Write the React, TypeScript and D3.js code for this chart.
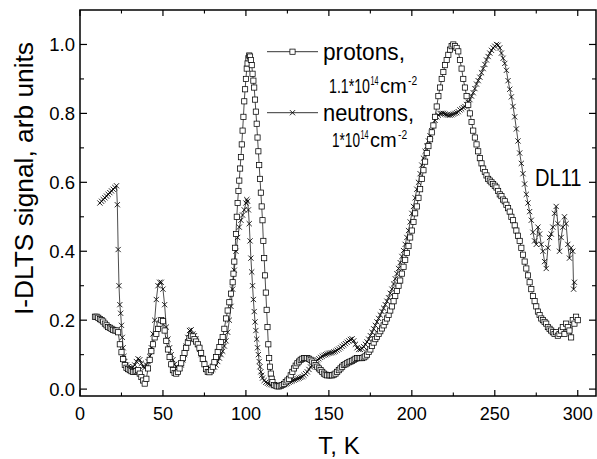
import React from 'react';
import * as d3 from 'd3';

// ---- data (T in K, I-DLTS signal in arb. units) ----
const protons: [number, number][] = [
  [9, 0.21], [10, 0.21], [11, 0.207], [12, 0.203], [13, 0.2], [14, 0.196], [15, 0.19], [16, 0.185], [17, 0.18], [18, 0.178],
  [19, 0.175], [20, 0.172], [21, 0.17], [22, 0.17], [23, 0.165], [24, 0.13], [25, 0.107], [26, 0.087], [27, 0.07], [28, 0.062],
  [29, 0.058], [30, 0.055], [31, 0.052], [32, 0.05], [33, 0.05], [34, 0.052], [35, 0.055], [36, 0.045], [37, 0.035], [38, 0.025],
  [39, 0.016], [40, 0.03], [41, 0.06], [42, 0.085], [43, 0.11], [44, 0.13], [45, 0.15], [46, 0.16], [47, 0.175], [48, 0.19],
  [49, 0.2], [50, 0.197], [51, 0.17], [52, 0.14], [53, 0.115], [54, 0.093], [55, 0.072], [56, 0.055], [57, 0.047], [58, 0.045],
  [59, 0.05], [60, 0.06], [61, 0.075], [62, 0.09], [63, 0.105], [64, 0.12], [65, 0.135], [66, 0.148], [67, 0.155], [68, 0.153],
  [69, 0.145], [70, 0.138], [71, 0.13], [72, 0.12], [73, 0.105], [74, 0.088], [75, 0.072], [76, 0.058], [77, 0.05], [78, 0.049],
  [79, 0.055], [80, 0.065], [81, 0.078], [82, 0.093], [83, 0.108], [84, 0.122], [85, 0.137], [86, 0.151], [87, 0.175], [88, 0.205],
  [89, 0.228], [90, 0.252], [91, 0.277], [92, 0.31], [92.5, 0.335], [93, 0.37], [93.5, 0.41], [94, 0.45], [94.5, 0.5], [95, 0.54],
  [95.5, 0.575], [96, 0.605], [96.5, 0.64], [97, 0.673], [97.5, 0.71], [98, 0.75], [98.5, 0.79], [99, 0.835], [99.5, 0.87], [100, 0.9],
  [100.5, 0.93], [101, 0.945], [101.5, 0.96], [102, 0.968], [102.5, 0.965], [103, 0.955], [103.5, 0.94], [104, 0.915], [104.5, 0.895], [105, 0.875],
  [105.5, 0.84], [106, 0.805], [106.5, 0.77], [107, 0.73], [107.5, 0.69], [108, 0.65], [108.5, 0.61], [109, 0.57], [109.5, 0.53], [110, 0.49],
  [110.5, 0.43], [111, 0.38], [111.5, 0.33], [112, 0.28], [112.5, 0.23], [113, 0.18], [113.5, 0.13], [114, 0.09], [114.5, 0.065], [115, 0.045],
  [115.5, 0.03], [116, 0.02], [117, 0.012], [118, 0.01], [119, 0.008], [120, 0.008], [121, 0.01], [122, 0.012], [123, 0.015], [124, 0.02],
  [125, 0.025], [126, 0.03], [127, 0.04], [128, 0.05], [129, 0.06], [130, 0.068], [131, 0.075], [132, 0.08], [133, 0.085], [134, 0.088],
  [135, 0.09], [136, 0.09], [137, 0.09], [138, 0.088], [139, 0.085], [140, 0.08], [141, 0.075], [142, 0.07], [143, 0.065], [144, 0.06],
  [145, 0.055], [146, 0.05], [147, 0.045], [148, 0.042], [149, 0.04], [150, 0.04], [151, 0.04], [152, 0.04], [153, 0.042], [154, 0.045],
  [155, 0.05], [156, 0.055], [157, 0.06], [158, 0.065], [159, 0.07], [160, 0.072], [161, 0.075], [162, 0.078], [163, 0.08], [164, 0.082],
  [165, 0.085], [166, 0.088], [167, 0.09], [168, 0.09], [169, 0.09], [170, 0.09], [171, 0.092], [172, 0.095], [173, 0.1], [174, 0.108],
  [175, 0.115], [176, 0.125], [177, 0.135], [178, 0.145], [179, 0.152], [180, 0.16], [181, 0.168], [182, 0.176], [183, 0.185], [184, 0.195],
  [185, 0.205], [186, 0.215], [187, 0.228], [188, 0.24], [189, 0.255], [190, 0.27], [191, 0.285], [192, 0.3], [193, 0.315], [194, 0.335],
  [195, 0.355], [196, 0.375], [197, 0.395], [198, 0.415], [199, 0.44], [200, 0.46], [201, 0.485], [202, 0.51], [203, 0.53], [204, 0.555],
  [205, 0.58], [206, 0.61], [207, 0.635], [208, 0.66], [209, 0.685], [210, 0.705], [211, 0.725], [212, 0.745], [213, 0.765], [214, 0.79],
  [215, 0.82], [216, 0.85], [217, 0.875], [218, 0.9], [219, 0.92], [220, 0.94], [221, 0.955], [222, 0.97], [223, 0.985], [224, 0.995],
  [225, 1.0], [226, 0.995], [227, 0.99], [228, 0.98], [229, 0.955], [230, 0.93], [231, 0.9], [232, 0.875], [233, 0.85], [234, 0.825],
  [235, 0.8], [236, 0.775], [237, 0.75], [238, 0.73], [239, 0.71], [240, 0.69], [241, 0.67], [242, 0.655], [243, 0.64], [244, 0.63],
  [245, 0.62], [246, 0.61], [247, 0.605], [248, 0.6], [249, 0.595], [250, 0.59], [251, 0.585], [252, 0.575], [253, 0.565], [254, 0.56],
  [255, 0.55], [256, 0.545], [257, 0.535], [258, 0.525], [259, 0.515], [260, 0.5], [261, 0.49], [262, 0.475], [263, 0.46], [264, 0.445],
  [265, 0.43], [266, 0.41], [267, 0.39], [268, 0.37], [269, 0.35], [270, 0.33], [271, 0.31], [272, 0.29], [273, 0.27], [274, 0.255],
  [275, 0.24], [276, 0.225], [277, 0.215], [278, 0.205], [279, 0.2], [280, 0.195], [281, 0.19], [282, 0.18], [283, 0.175], [284, 0.17],
  [285, 0.165], [286, 0.16], [287, 0.165], [288, 0.155], [289, 0.16], [290, 0.17], [291, 0.18], [292, 0.16], [293, 0.19], [294, 0.18],
  [295, 0.17], [296, 0.15], [297, 0.2], [298, 0.19], [299, 0.21], [300, 0.2],
];

const neutrons: [number, number][] = [
  [12, 0.54], [13, 0.545], [14, 0.55], [15, 0.555], [16, 0.56], [17, 0.565], [18, 0.57], [19, 0.575], [20, 0.58], [21, 0.585],
  [22, 0.59], [22.5, 0.535], [23, 0.405], [23.5, 0.3], [24, 0.245], [24.5, 0.22], [25, 0.185], [25.5, 0.15], [26, 0.12], [26.5, 0.095],
  [27, 0.08], [28, 0.07], [29, 0.065], [30, 0.06], [31, 0.06], [32, 0.065], [33, 0.07], [34, 0.08], [35, 0.088], [36, 0.085],
  [37, 0.075], [38, 0.065], [39, 0.062], [40, 0.07], [41, 0.08], [42, 0.095], [43, 0.12], [44, 0.16], [45, 0.2], [46, 0.26],
  [47, 0.3], [48, 0.31], [49, 0.31], [50, 0.29], [51, 0.245], [52, 0.18], [53, 0.145], [54, 0.12], [55, 0.1], [56, 0.085],
  [57, 0.072], [58, 0.065], [59, 0.06], [60, 0.062], [61, 0.07], [62, 0.085], [63, 0.1], [64, 0.125], [65, 0.15], [66, 0.17],
  [67, 0.172], [68, 0.16], [69, 0.155], [70, 0.145], [71, 0.13], [72, 0.115], [73, 0.1], [74, 0.088], [75, 0.075], [76, 0.062],
  [77, 0.055], [78, 0.05], [79, 0.052], [80, 0.058], [81, 0.064], [82, 0.07], [83, 0.08], [84, 0.09], [85, 0.1], [86, 0.11],
  [87, 0.125], [88, 0.14], [89, 0.165], [90, 0.2], [91, 0.24], [92, 0.29], [93, 0.345], [94, 0.4], [95, 0.44], [96, 0.47],
  [97, 0.49], [98, 0.505], [99, 0.52], [100, 0.54], [100.5, 0.55], [101, 0.545], [101.5, 0.52], [102, 0.48], [102.5, 0.43], [103, 0.38],
  [103.5, 0.34], [104, 0.3], [104.5, 0.26], [105, 0.225], [105.5, 0.195], [106, 0.17], [106.5, 0.145], [107, 0.12], [107.5, 0.1], [108, 0.08],
  [108.5, 0.065], [109, 0.05], [109.5, 0.04], [110, 0.032], [111, 0.025], [112, 0.02], [113, 0.017], [114, 0.015], [115, 0.013], [116, 0.012],
  [117, 0.01], [118, 0.01], [119, 0.01], [120, 0.01], [121, 0.01], [122, 0.012], [123, 0.013], [124, 0.015], [125, 0.017], [126, 0.02],
  [127, 0.022], [128, 0.024], [129, 0.026], [130, 0.028], [131, 0.03], [132, 0.032], [133, 0.034], [134, 0.036], [135, 0.04], [136, 0.045],
  [137, 0.05], [138, 0.057], [139, 0.064], [140, 0.07], [141, 0.076], [142, 0.08], [143, 0.085], [144, 0.088], [145, 0.092], [146, 0.095],
  [147, 0.098], [148, 0.1], [149, 0.102], [150, 0.104], [151, 0.105], [152, 0.106], [153, 0.108], [154, 0.11], [155, 0.113], [156, 0.116],
  [157, 0.12], [158, 0.124], [159, 0.128], [160, 0.132], [161, 0.136], [162, 0.14], [163, 0.144], [164, 0.146], [165, 0.14], [166, 0.13],
  [167, 0.12], [168, 0.115], [169, 0.115], [170, 0.118], [171, 0.123], [172, 0.13], [173, 0.137], [174, 0.145], [175, 0.155], [176, 0.165],
  [177, 0.175], [178, 0.185], [179, 0.195], [180, 0.205], [181, 0.215], [182, 0.225], [183, 0.235], [184, 0.245], [185, 0.255], [186, 0.265],
  [187, 0.278], [188, 0.29], [189, 0.305], [190, 0.32], [191, 0.335], [192, 0.35], [193, 0.367], [194, 0.385], [195, 0.402], [196, 0.42],
  [197, 0.44], [198, 0.46], [199, 0.485], [200, 0.51], [201, 0.53], [202, 0.555], [203, 0.58], [204, 0.6], [205, 0.625], [206, 0.65],
  [207, 0.67], [208, 0.69], [209, 0.705], [210, 0.72], [211, 0.735], [212, 0.75], [213, 0.765], [214, 0.78], [215, 0.79], [216, 0.795],
  [217, 0.8], [218, 0.8], [219, 0.8], [220, 0.798], [221, 0.796], [222, 0.795], [223, 0.795], [224, 0.796], [225, 0.798], [226, 0.8],
  [227, 0.802], [228, 0.805], [229, 0.81], [230, 0.813], [231, 0.817], [232, 0.82], [233, 0.826], [234, 0.832], [235, 0.84], [236, 0.85],
  [237, 0.86], [238, 0.872], [239, 0.885], [240, 0.895], [241, 0.905], [242, 0.918], [243, 0.93], [244, 0.942], [245, 0.955], [246, 0.965],
  [247, 0.975], [248, 0.983], [249, 0.99], [250, 0.995], [251, 1.0], [252, 0.998], [253, 0.99], [254, 0.975], [255, 0.96], [256, 0.945],
  [257, 0.925], [258, 0.895], [259, 0.87], [260, 0.848], [261, 0.82], [262, 0.79], [263, 0.755], [264, 0.72], [265, 0.685], [266, 0.655],
  [267, 0.625], [268, 0.595], [269, 0.565], [270, 0.54], [271, 0.515], [272, 0.49], [273, 0.455], [274, 0.43], [275, 0.42], [276, 0.47],
  [277, 0.45], [278, 0.42], [279, 0.4], [280, 0.37], [281, 0.35], [282, 0.41], [283, 0.44], [284, 0.45], [285, 0.47], [286, 0.51],
  [287, 0.53], [288, 0.48], [289, 0.4], [290, 0.44], [291, 0.47], [292, 0.5], [293, 0.48], [294, 0.42], [295, 0.38], [296, 0.41],
  [297, 0.4], [297.5, 0.29], [298, 0.31],
];

const xMajorTicks = [0, 50, 100, 150, 200, 250, 300];
const xMinorTicks = [25, 75, 125, 175, 225, 275];
const yMajorTicks = [0, 0.2, 0.4, 0.6, 0.8, 1.0];
const yMinorTicks = [0.1, 0.3, 0.5, 0.7, 0.9];

const FONT = "'Liberation Sans', Arial, Helvetica, sans-serif";

const x = d3.scaleLinear().domain([0, 311]).range([80, 596]);
const y = d3.scaleLinear().domain([-0.02, 1.1]).range([396, 10]);

const line = d3.line<[number, number]>().x((d) => x(d[0])).y((d) => y(d[1]));

const SQ = 5.2;
const XS = 2.6;

function Square({ cx, cy }: { cx: number; cy: number }) {
  return <rect x={cx - SQ / 2} y={cy - SQ / 2} width={SQ} height={SQ} fill="#fff" stroke="#000" strokeWidth={0.75} />;
}
function Cross({ cx, cy }: { cx: number; cy: number }) {
  return (
    <path
      d={`M${cx - XS},${cy - XS}L${cx + XS},${cy + XS}M${cx - XS},${cy + XS}L${cx + XS},${cy - XS}`}
      stroke="#000"
      strokeWidth={0.85}
      fill="none"
    />
  );
}

// horizontally squeezed text piece (scan glyphs are narrow)
function Piece({ px, py, size, sx, children }: { px: number; py: number; size: number; sx: number; children: string }) {
  return (
    <text transform={`translate(${px},${py}) scale(${sx},1)`} fontSize={size}>
      {children}
    </text>
  );
}

// "mantissa*10^14 cm^-2" built from separate pieces
function Dose({ x0, base, mant, mantW, mantEm }: { x0: number; base: number; mant: string; mantW: number; mantEm: number }) {
  const big = 20;
  const sup = 12;
  const sxM = mantW / (mantEm * big);
  const supW = 8;
  const sxS = supW / (1.112 * sup);
  const cmX = x0 + mantW + supW + 2;
  const cmW = 27;
  return (
    <g>
      <Piece px={x0} py={base} size={big} sx={sxM}>{mant}</Piece>
      <Piece px={x0 + mantW + 0.5} py={base - 8} size={sup} sx={sxS}>14</Piece>
      <Piece px={cmX} py={base} size={big} sx={1}>cm</Piece>
      <Piece px={cmX + cmW + 1} py={base - 8} size={sup} sx={0.85}>-2</Piece>
    </g>
  );
}

export default function App() {
  const [x0, x1] = x.range();
  const [y0, y1] = y.range();
  const fmtY = d3.format('.1f');
  return (
    <svg width={597} height={459} style={{ position: 'absolute', left: 0, top: 0, background: '#fff' }} fontFamily={FONT}>
      <rect x={0} y={0} width={597} height={459} fill="#fff" />
      {/* neutrons */}
      <path d={line(neutrons) || ''} fill="none" stroke="#000" strokeWidth={0.7} />
      {neutrons.map((d, i) => (
        <Cross key={'n' + i} cx={x(d[0])} cy={y(d[1])} />
      ))}
      {/* protons */}
      <path d={line(protons) || ''} fill="none" stroke="#000" strokeWidth={0.7} />
      {protons.map((d, i) => (
        <Square key={'p' + i} cx={x(d[0])} cy={y(d[1])} />
      ))}

      {/* frame */}
      <rect x={x0} y={y1} width={x1 - x0} height={y0 - y1} fill="none" stroke="#000" strokeWidth={1.5} />

      {/* ticks */}
      {xMajorTicks.map((t) => (
        <g key={'xm' + t}>
          <line x1={x(t)} x2={x(t)} y1={y0} y2={y0 - 6} stroke="#000" strokeWidth={1.2} />
          <line x1={x(t)} x2={x(t)} y1={y1} y2={y1 + 6} stroke="#000" strokeWidth={1.2} />
          <text x={x(t)} y={420} fontSize={18} textAnchor="middle">{t}</text>
        </g>
      ))}
      {xMinorTicks.map((t) => (
        <g key={'xn' + t}>
          <line x1={x(t)} x2={x(t)} y1={y0} y2={y0 - 3.5} stroke="#000" strokeWidth={1.1} />
          <line x1={x(t)} x2={x(t)} y1={y1} y2={y1 + 3.5} stroke="#000" strokeWidth={1.1} />
        </g>
      ))}
      {yMajorTicks.map((t) => (
        <g key={'ym' + t}>
          <line x1={x0} x2={x0 + 7} y1={y(t)} y2={y(t)} stroke="#000" strokeWidth={1.2} />
          <line x1={x1} x2={x1 - 7} y1={y(t)} y2={y(t)} stroke="#000" strokeWidth={1.2} />
          <text x={75} y={y(t)} dy="0.36em" fontSize={18.5} textAnchor="end">{fmtY(t)}</text>
        </g>
      ))}
      {yMinorTicks.map((t) => (
        <g key={'yn' + t}>
          <line x1={x0} x2={x0 + 4} y1={y(t)} y2={y(t)} stroke="#000" strokeWidth={1.1} />
          <line x1={x1} x2={x1 - 4} y1={y(t)} y2={y(t)} stroke="#000" strokeWidth={1.1} />
        </g>
      ))}

      {/* axis titles */}
      <text x={339} y={454} fontSize={24} textAnchor="middle">T, K</text>
      <text
        transform="rotate(-90)"
        x={-178.5}
        y={33}
        fontSize={25}
        textAnchor="middle"
        textLength={273}
        lengthAdjust="spacingAndGlyphs"
      >
        I-DLTS signal, arb units
      </text>

      {/* legend */}
      <line x1={267} x2={318} y1={51.7} y2={51.7} stroke="#000" strokeWidth={0.8} />
      <Square cx={292.5} cy={51.7} />
      <Piece px={323} py={60} size={23} sx={82 / (3.613 * 23)}>protons,</Piece>
      <Dose x0={329} base={93} mant="1.1*10" mantW={41} mantEm={2.891} />
      <line x1={267} x2={318} y1={112.7} y2={112.7} stroke="#000" strokeWidth={0.8} />
      <Cross cx={292.5} cy={112.7} />
      <Piece px={323} py={121} size={23} sx={91 / (4.169 * 23)}>neutrons,</Piece>
      <Dose x0={332} base={147} mant="1*10" mantW={28} mantEm={2.057} />

      <Piece px={535} py={186} size={23} sx={48 / (2.39 * 23)}>DL11</Piece>
    </svg>
  );
}
